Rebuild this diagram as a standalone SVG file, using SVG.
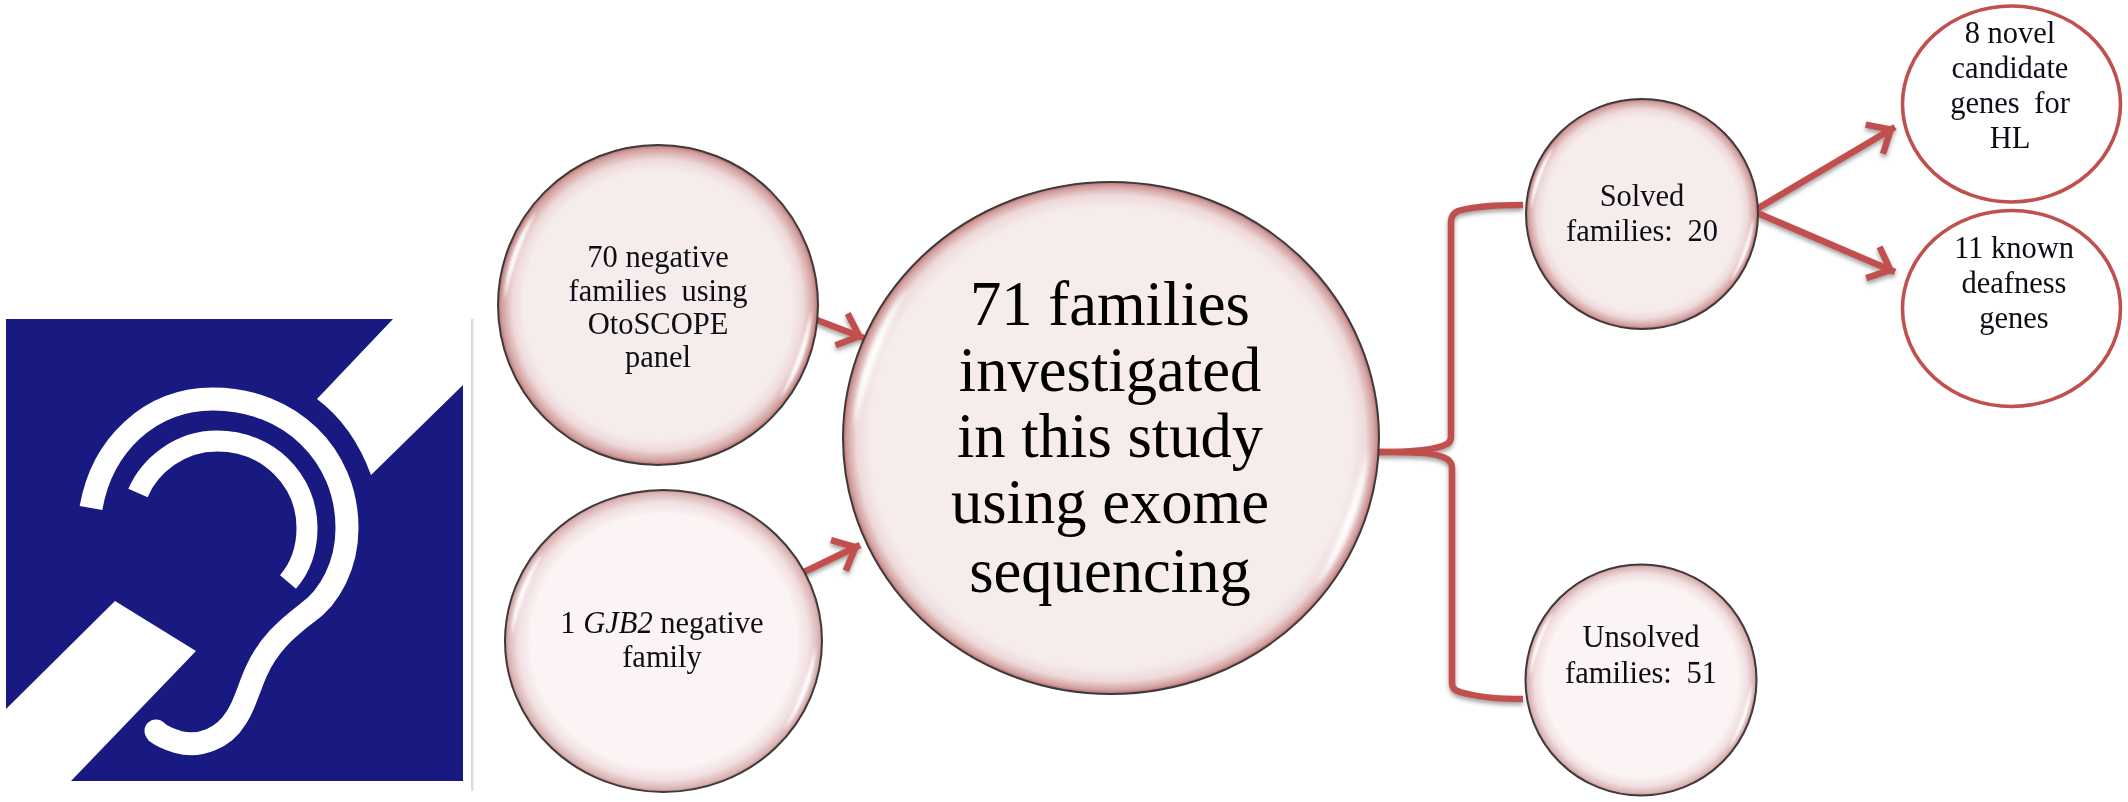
<svg xmlns="http://www.w3.org/2000/svg" xmlns:xlink="http://www.w3.org/1999/xlink" width="2128" height="802" viewBox="0 0 2128 802">
<style>
text{font-family:"Liberation Serif","Times New Roman",serif;fill:#0b0e16;text-anchor:middle;font-size:30.5px;filter:url(#soft)}
.big{font-size:62.6px;fill:#050505}
.ws{word-spacing:7px}
.rim{stroke:#3f3a3a;stroke-width:2;vector-effect:non-scaling-stroke}
.outline{fill:#fff;stroke:#c0504d;stroke-width:3.6}
.link{fill:none;stroke:#c0504d;stroke-width:6.5}
.ear{fill:none;stroke:#fff}
</style>
<defs>
<filter id="soft" x="-5%" y="-20%" width="110%" height="140%"><feGaussianBlur stdDeviation="0.3"/></filter>
<filter id="glow" x="-30%" y="-30%" width="160%" height="160%"><feGaussianBlur stdDeviation="1"/></filter>
<filter id="shadow" x="-20%" y="-20%" width="140%" height="140%"><feDropShadow dx="0" dy="3" stdDeviation="2" flood-color="#555" flood-opacity="0.55"/></filter>
<radialGradient id="deep"><stop offset="0.84" stop-color="#f6ecec"/><stop offset="0.91" stop-color="#eed9d9"/><stop offset="0.975" stop-color="#d3a0a0"/><stop offset="1" stop-color="#b87070"/></radialGradient>
<radialGradient id="large"><stop offset="0.9" stop-color="#f6ecec"/><stop offset="0.95" stop-color="#eed9d9"/><stop offset="0.985" stop-color="#d3a0a0"/><stop offset="1" stop-color="#b87070"/></radialGradient>
<radialGradient id="pale"><stop offset="0.84" stop-color="#fbf3f4"/><stop offset="0.92" stop-color="#f1dfe0"/><stop offset="0.98" stop-color="#dbb4b4"/><stop offset="1" stop-color="#c58c8c"/></radialGradient>
<marker id="head" markerUnits="userSpaceOnUse" viewBox="-34 -24 42 48" refX="5" refY="0" markerWidth="42" markerHeight="48" orient="auto"><path d="M-19,-17 L0,0 L-19,17" fill="none" stroke="#c0504d" stroke-width="6.5"/></marker>
<path id="shine" d="M-96,-3 A96,96 0 0 1 -76,-59 A280,280 0 0 0 -96,-3 Z M96,3 A96,96 0 0 1 76,59 A280,280 0 0 0 96,3 Z" fill="#fff" filter="url(#glow)"/>
</defs>
<rect width="2128" height="802" fill="#fff"/>

<g id="logo">
<rect x="6" y="319" width="457" height="462" fill="#181a82"/>
<path d="M393,319 L317,399 Q353,426 371,475 L463,385 L463,319 Z" fill="#fff"/>
<path d="M115,601 L196,651 L71,781 L6,781 L6,709 Z" fill="#fff"/>
<path class="ear" stroke-width="23" d="M91,508 C102,445 150,399 213,399 C290,399 347,455 347,528 C347,565 330,597 307,613 C285,630 268,645 256,672 C248,690 245,705 236,718 C224,738 200,748 178,742 C168,739 160,735 155,731"/>
<circle cx="156" cy="731" r="11.5" fill="#fff"/>
<path class="ear" stroke-width="21" d="M138,493 C150,465 180,441 217,441 C268,441 307,480 307,528 C307,550 300,568 288,582"/>
<rect x="471" y="319" width="2.4" height="472" fill="#d8dcdf"/>
</g>

<g id="connectors" filter="url(#shadow)">
<path class="link" marker-end="url(#head)" d="M817,320 L864,338"/>
<path class="link" marker-end="url(#head)" d="M802,573 L860,545"/>
<path class="link" d="M1378,452 C1410,452 1436,450 1447,444 Q1451,442 1451,436 L1451,222 Q1451,214 1458,211 C1475,206 1500,205 1523,205"/>
<path class="link" d="M1378,452 C1410,452 1436,452 1447,459 Q1452,462 1452,468 L1452,683 Q1452,690 1460,692 C1480,698 1500,699 1523,699"/>
<path class="link" marker-end="url(#head)" d="M1755,210 L1895,127"/>
<path class="link" marker-end="url(#head)" d="M1755,212 L1895,272"/>
</g>

<g id="node-panel-negative">
<ellipse class="rim" cx="658" cy="305" rx="160" ry="160" fill="url(#deep)"/>
<use href="#shine" transform="translate(658 305) scale(1.6)"/>
<text x="658" y="267">70 negative</text>
<text class="ws" x="658" y="301">families using</text>
<text x="658" y="334">OtoSCOPE</text>
<text x="658" y="367">panel</text>
</g>

<g id="node-gjb2-negative">
<ellipse class="rim" cx="663.5" cy="641" rx="158.5" ry="151" fill="url(#pale)"/>
<use href="#shine" transform="translate(663.5 641) scale(1.585 1.51)"/>
<text x="662" y="633">1 <tspan font-style="italic">GJB2</tspan> negative</text>
<text x="662" y="667">family</text>
</g>

<g id="node-investigated">
<ellipse class="rim" cx="1111" cy="438" rx="268" ry="256" fill="url(#large)"/>
<use href="#shine" transform="translate(1111 438) scale(2.68 2.56)"/>
<text class="big" x="1110" y="325">71 families</text>
<text class="big" x="1110" y="391">investigated</text>
<text class="big" x="1110" y="457">in this study</text>
<text class="big" x="1110" y="523">using exome</text>
<text class="big" x="1110" y="592">sequencing</text>
</g>

<g id="node-solved">
<ellipse class="rim" cx="1642" cy="214" rx="116" ry="115" fill="url(#deep)"/>
<use href="#shine" transform="translate(1642 214) scale(1.16 1.15)"/>
<text x="1642" y="206">Solved</text>
<text class="ws" x="1642" y="241">families: 20</text>
</g>

<g id="node-unsolved">
<ellipse class="rim" cx="1641" cy="680" rx="115.5" ry="115.5" fill="url(#pale)"/>
<use href="#shine" transform="translate(1641 680) scale(1.155)"/>
<text x="1641" y="647">Unsolved</text>
<text class="ws" x="1641" y="683">families: 51</text>
</g>

<g id="node-novel">
<ellipse class="outline" cx="2011.5" cy="104" rx="109" ry="98"/>
<text x="2010" y="43">8 novel</text>
<text x="2010" y="78">candidate</text>
<text class="ws" x="2010" y="113">genes for</text>
<text x="2010" y="148">HL</text>
</g>

<g id="node-known">
<ellipse class="outline" cx="2011.5" cy="308.5" rx="109" ry="98"/>
<text x="2014" y="258">11 known</text>
<text x="2014" y="293">deafness</text>
<text x="2014" y="328">genes</text>
</g>
</svg>
